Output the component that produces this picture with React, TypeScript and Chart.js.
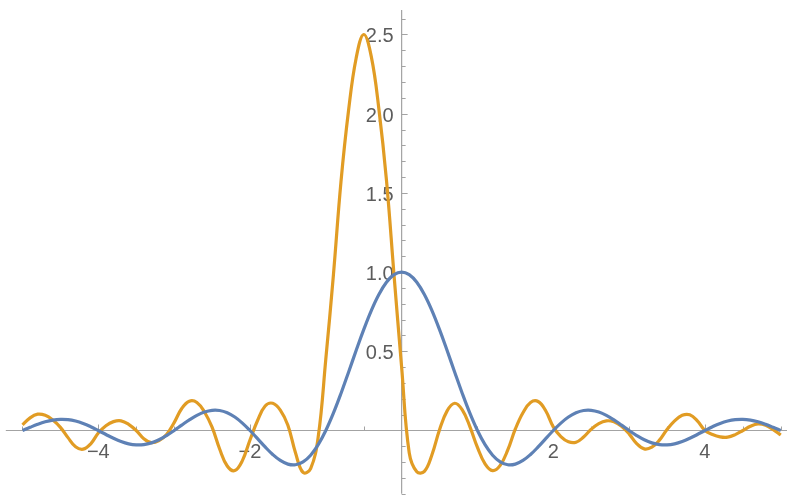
import { useEffect, useRef } from "react";
import { Chart, registerables } from "chart.js";

Chart.register(...registerables);

// x positions of the samples
const X_VALUES = [
  -5.0, -4.9, -4.8, -4.7, -4.6, -4.5, -4.4, -4.3, -4.2, -4.1,
  -4.0, -3.9, -3.8, -3.7, -3.6, -3.5, -3.4, -3.3, -3.2, -3.1,
  -3.0, -2.9, -2.8, -2.7, -2.6, -2.5, -2.4, -2.3, -2.2, -2.1,
  -2.0, -1.9, -1.8, -1.7, -1.6, -1.5, -1.4, -1.3, -1.2, -1.1,
  -1.0, -0.9, -0.8, -0.7, -0.6, -0.5, -0.4, -0.3, -0.2, -0.1,
  0.0, 0.1, 0.2, 0.3, 0.4, 0.5, 0.6, 0.7, 0.8, 0.9,
  1.0, 1.1, 1.2, 1.3, 1.4, 1.5, 1.6, 1.7, 1.8, 1.9,
  2.0, 2.1, 2.2, 2.3, 2.4, 2.5, 2.6, 2.7, 2.8, 2.9,
  3.0, 3.1, 3.2, 3.3, 3.4, 3.5, 3.6, 3.7, 3.8, 3.9,
  4.0, 4.1, 4.2, 4.3, 4.4, 4.5, 4.6, 4.7, 4.8, 4.9,
  5.0,
];

// blue curve
const BLUE_VALUES = [
  0, 0.0201, 0.039, 0.0548, 0.0658, 0.0707, 0.0688, 0.0599, 0.0446, 0.024,
  0, -0.0252, -0.0492, -0.0696, -0.0841, -0.0909, -0.089, -0.078, -0.0585, -0.0317,
  0, 0.0339, 0.0668, 0.0954, 0.1164, 0.1273, 0.1261, 0.112, 0.085, 0.0468,
  0, -0.0518, -0.1039, -0.1515, -0.1892, -0.2122, -0.2162, -0.1981, -0.1559, -0.0894,
  0, 0.1093, 0.2339, 0.3679, 0.5046, 0.6366, 0.7568, 0.8584, 0.9355, 0.9836,
  1, 0.9836, 0.9355, 0.8584, 0.7568, 0.6366, 0.5046, 0.3679, 0.2339, 0.1093,
  0, -0.0894, -0.1559, -0.1981, -0.2162, -0.2122, -0.1892, -0.1515, -0.1039, -0.0518,
  0, 0.0468, 0.085, 0.112, 0.1261, 0.1273, 0.1164, 0.0954, 0.0668, 0.0339,
  0, -0.0317, -0.0585, -0.078, -0.089, -0.0909, -0.0841, -0.0696, -0.0492, -0.0252,
  0, 0.024, 0.0446, 0.0599, 0.0688, 0.0707, 0.0658, 0.0548, 0.039, 0.0201,
  0,
];

// orange curve
const ORANGE_VALUES = [
  0.035, 0.08, 0.103, 0.096, 0.066, 0.02, -0.045, -0.103, -0.118, -0.084,
  -0.016, 0.03, 0.056, 0.061, 0.039, 0.0, -0.052, -0.077, -0.064, -0.025,
  0.05, 0.139, 0.185, 0.177, 0.117, 0.021, -0.117, -0.224, -0.253, -0.19,
  -0.06, 0.063, 0.155, 0.172, 0.129, 0.033, -0.14, -0.265, -0.24, -0.04,
  0.45, 0.98, 1.57, 2.02, 2.35, 2.5, 2.36, 2.03, 1.58, 0.98,
  0.4, -0.14, -0.26, -0.258, -0.153, 0.005, 0.124, 0.172, 0.13, 0.025,
  -0.107, -0.21, -0.253, -0.22, -0.123, 0.01, 0.112, 0.177, 0.183, 0.125,
  0.023, -0.038, -0.071, -0.074, -0.041, 0.008, 0.044, 0.061, 0.055, 0.027,
  -0.021, -0.083, -0.116, -0.105, -0.061, 0.006, 0.061, 0.096, 0.099, 0.061,
  0.0, -0.025, -0.04, -0.042, -0.026, 0.0, 0.027, 0.041, 0.033, 0.006,
  -0.028,
];

const X_MINOR_TICKS = [
  -5, -4.5, -4, -3.5, -3, -2.5, -2, -1.5, -1, -0.5,
  0.5, 1, 1.5, 2, 2.5, 3, 3.5, 4, 4.5, 5,
];
const X_LABEL_TICKS = [-4, -2, 2, 4];
const X_LABELS = ["\u22124", "\u22122", "2", "4"];

const Y_MINOR_TICKS = [
  -0.4, -0.3, -0.2, -0.1, 0.1, 0.2, 0.3, 0.4, 0.5, 0.6, 0.7, 0.8, 0.9, 1.0,
  1.1, 1.2, 1.3, 1.4, 1.5, 1.6, 1.7, 1.8, 1.9, 2.0, 2.1, 2.2, 2.3, 2.4, 2.5, 2.6,
];
const Y_LABEL_TICKS = [0.5, 1.0, 1.5, 2.0, 2.5];
const Y_LABELS = ["0.5", "1.0", "1.5", "2.0", "2.5"];

const X_AXIS_EXTENT = [-5.22, 5.09];
const Y_AXIS_EXTENT = [-0.4, 2.655];
const X_VIEW = [-5.2967, 5.0823];
const Y_VIEW = [-0.4135, 2.7178];

const BLUE = "#5E81B5";
const ORANGE = "#E19C24";
const AXIS_COLOR = "#a3a3a3";
const LABEL_COLOR = "#5c5c5c";
const FONT = '20px "Liberation Sans", Arial, sans-serif';

const axesPlugin = {
  id: "mmaAxes",
  beforeDatasetsDraw(chart: any) {
    const { ctx } = chart;
    const xs = chart.scales.x;
    const ys = chart.scales.y;
    const y0 = ys.getPixelForValue(0);
    const x0 = xs.getPixelForValue(0);
    ctx.save();
    ctx.strokeStyle = AXIS_COLOR;
    ctx.lineWidth = 1.2;
    ctx.beginPath();
    ctx.moveTo(xs.getPixelForValue(X_AXIS_EXTENT[0]), y0);
    ctx.lineTo(xs.getPixelForValue(X_AXIS_EXTENT[1]), y0);
    ctx.moveTo(x0, ys.getPixelForValue(Y_AXIS_EXTENT[0]));
    ctx.lineTo(x0, ys.getPixelForValue(Y_AXIS_EXTENT[1]));
    ctx.stroke();

    ctx.lineWidth = 1;
    ctx.beginPath();
    for (const v of X_MINOR_TICKS) {
      const px = Math.round(xs.getPixelForValue(v)) + 0.5;
      const len = X_LABEL_TICKS.includes(v) ? 6 : 4;
      ctx.moveTo(px, y0);
      ctx.lineTo(px, y0 - len);
    }
    for (const v of Y_MINOR_TICKS) {
      const py = Math.round(ys.getPixelForValue(v)) + 0.5;
      const len = Y_LABEL_TICKS.includes(v) ? 6 : 4;
      ctx.moveTo(x0, py);
      ctx.lineTo(x0 + len, py);
    }
    ctx.stroke();

    ctx.fillStyle = LABEL_COLOR;
    ctx.font = FONT;
    ctx.textAlign = "center";
    ctx.textBaseline = "alphabetic";
    X_LABEL_TICKS.forEach((v, i) => {
      ctx.fillText(X_LABELS[i], xs.getPixelForValue(v), y0 + 27.5);
    });
    ctx.textAlign = "right";
    Y_LABEL_TICKS.forEach((v, i) => {
      ctx.fillText(Y_LABELS[i], x0 - 8, ys.getPixelForValue(v) + 8);
    });
    ctx.restore();
  },
};

export default function App() {
  const canvasRef = useRef<HTMLCanvasElement | null>(null);

  useEffect(() => {
    document.body.style.margin = "0";
    const canvas = canvasRef.current;
    if (!canvas) return;
    const blueData = X_VALUES.map((x, i) => ({ x, y: BLUE_VALUES[i] }));
    const orangeData = X_VALUES.map((x, i) => ({ x, y: ORANGE_VALUES[i] }));
    const chart = new Chart(canvas, {
      type: "line",
      data: {
        datasets: [
          {
            data: blueData,
            borderColor: BLUE,
            borderWidth: 3.2,
            pointRadius: 0,
            tension: 0.4,
            fill: false,
          },
          {
            data: orangeData,
            borderColor: ORANGE,
            borderWidth: 3.2,
            pointRadius: 0,
            tension: 0.4,
            fill: false,
          },
        ],
      },
      options: {
        animation: false,
        responsive: false,
        devicePixelRatio: 1,
        layout: { padding: 0 },
        plugins: {
          legend: { display: false },
          tooltip: { enabled: false },
        },
        scales: {
          x: { type: "linear", min: X_VIEW[0], max: X_VIEW[1], display: false },
          y: { type: "linear", min: Y_VIEW[0], max: Y_VIEW[1], display: false },
        },
      },
      plugins: [axesPlugin],
    });
    return () => chart.destroy();
  }, []);

  return (
    <div style={{ width: 787, height: 496, background: "#fff" }}>
      <canvas ref={canvasRef} width={787} height={496} style={{ display: "block" }} />
    </div>
  );
}
